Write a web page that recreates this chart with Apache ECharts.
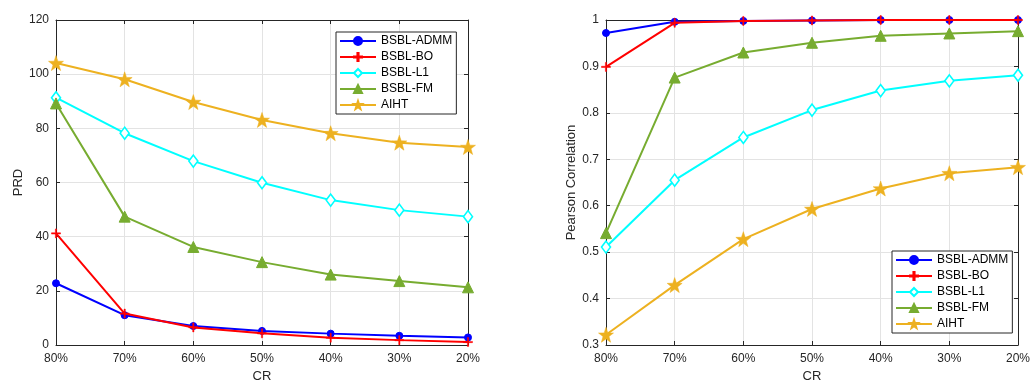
<!DOCTYPE html>
<html><head><meta charset="utf-8">
<script src="https://cdn.jsdelivr.net/npm/echarts@6/dist/echarts.min.js"></script>
<style>html,body{margin:0;padding:0;background:#fff}#c{width:1030px;height:383px}</style>
</head><body><div id="c"></div>
<script>
const categories = ['80%','70%','60%','50%','40%','30%','20%'];
const seriesNames = ['BSBL-ADMM','BSBL-BO','BSBL-L1','BSBL-FM','AIHT'];
// Left: PRD
const prdADMM = [22.8, 11.0, 7.0, 5.2, 4.2, 3.4, 2.8];
const prdBO   = [41.2, 11.6, 6.5, 4.3, 2.7, 1.8, 1.1];
const prdL1   = [91.3, 78.2, 67.9, 59.9, 53.5, 49.8, 47.4];
const prdFM   = [89.2, 47.4, 36.2, 30.6, 26.0, 23.6, 21.3];
const prdAIHT = [104.1, 98.1, 89.7, 83.1, 78.2, 74.7, 73.1];
// Right: Pearson correlation
const pcADMM = [0.972, 0.996, 0.998, 0.999, 1.0, 1.0, 1.0];
const pcBO   = [0.899, 0.994, 0.998, 0.999, 1.0, 1.0, 1.0];
const pcL1   = [0.511, 0.655, 0.747, 0.806, 0.848, 0.869, 0.881];
const pcFM   = [0.541, 0.876, 0.930, 0.951, 0.966, 0.971, 0.976];
const pcAIHT = [0.322, 0.429, 0.528, 0.593, 0.637, 0.670, 0.683];

const colors = ['#0000FF','#FF0000','#00FFFF','#77AC30','#EDB120'];
const plusPath = 'path://M-0.7,-5H0.7V-0.7H5V0.7H0.7V5H-0.7V0.7H-5V-0.7H-0.7Z';
const starPath = 'path://M0,-10L2.35,-3.24L9.51,-3.09L3.8,1.24L5.88,8.09L0,4L-5.88,8.09L-3.8,1.24L-9.51,-3.09L-2.35,-3.24Z';
const styles = [
  {symbol:'circle', symbolSize:7, itemStyle:{color:colors[0], borderColor:colors[0], borderWidth:1}},
  {symbol:plusPath, symbolSize:9, itemStyle:{color:colors[1], borderColor:colors[1], borderWidth:0.5}},
  {symbol:'diamond', symbolSize:[9,12], itemStyle:{color:'#fff', borderColor:colors[2], borderWidth:1.6}},
  {symbol:'triangle', symbolSize:11, itemStyle:{color:colors[3], borderColor:colors[3], borderWidth:1}},
  {symbol:starPath, symbolSize:15, itemStyle:{color:colors[4], borderColor:colors[4], borderWidth:0.5}}
];
const leftData = [prdADMM, prdBO, prdL1, prdFM, prdAIHT];
const rightData = [pcADMM, pcBO, pcL1, pcFM, pcAIHT];

const axisColor = '#262626';
const labelStyle = {color: axisColor, fontSize: 12, fontFamily: 'Liberation Sans, Arial, sans-serif'};
const gridLine = {show:true, lineStyle:{color:'#e3e3e3', width:1}};

function xAx(gi, main) {
  return {
    type:'category', gridIndex:gi, data:categories, boundaryGap:false,
    position: main ? 'bottom' : 'top',
    axisLine:{show:true, onZero:false, lineStyle:{color:axisColor, width:1}},
    axisTick:{show:true, inside:true, length:4, alignWithLabel:true, lineStyle:{color:axisColor}},
    axisLabel:{show:main, margin:8, ...labelStyle},
    splitLine: main ? gridLine : {show:false},
    name: main ? 'CR' : '', nameLocation:'middle', nameGap:24,
    nameTextStyle:{...labelStyle, fontSize:13}
  };
}
function yAx(gi, main, min, max, interval, name, gap, fmt) {
  return {
    type:'value', gridIndex:gi, min:min, max:max, interval:interval,
    position: main ? 'left' : 'right',
    axisLine:{show:true, onZero:false, lineStyle:{color:axisColor, width:1}},
    axisTick:{show:true, inside:true, length:4, lineStyle:{color:axisColor}},
    axisLabel:{show:main, margin:7, ...labelStyle, formatter:fmt},
    splitLine: main ? gridLine : {show:false},
    name: main ? name : '', nameLocation:'middle', nameGap:gap,
    nameTextStyle:{...labelStyle, fontSize:13}
  };
}

const series = [];
[leftData, rightData].forEach((arr, g) => {
  arr.forEach((d, i) => {
    series.push({
      name: seriesNames[i], type:'line', data:d,
      xAxisIndex: g*2, yAxisIndex: g*2,
      ...styles[i],
      showAllSymbol:true,
      lineStyle:{color:colors[i], width:2},
      emphasis:{disabled:true}, animation:false, z: 2 + i
    });
  });
});

const legendCommon = {
  orient:'vertical', data: seriesNames,
  itemWidth:36, itemHeight:10, itemGap:4,
  backgroundColor:'#fff', borderColor:axisColor, borderWidth:1,
  padding:[3,4,3,3],
  textStyle:{color:'#000', fontSize:12, fontFamily:'Liberation Sans, Arial, sans-serif'},
  selectedMode:false
};

const chart = echarts.init(document.getElementById('c'));
chart.setOption({
  animation:false,
  backgroundColor:'#fff',
  grid:[
    {left:56, right:562, top:20, bottom:38, outerBoundsMode:'none', containLabel:false},
    {left:606, right:12, top:20, bottom:38, outerBoundsMode:'none', containLabel:false}
  ],
  xAxis:[xAx(0,true), xAx(0,false), xAx(1,true), xAx(1,false)],
  yAxis:[
    yAx(0,true,0,120,20,'PRD',30),
    yAx(0,false,0,120,20,'',0),
    yAx(1,true,0.3,1,0.1,'Pearson Correlation',28, v => (Math.abs(v-1)<1e-9 ? '1' : v.toFixed(1))),
    yAx(1,false,0.3,1,0.1,'',0)
  ],
  legend:[
    {...legendCommon, left:336, top:32},
    {...legendCommon, left:892, top:251}
  ],
  series: series
});
</script></body></html>
